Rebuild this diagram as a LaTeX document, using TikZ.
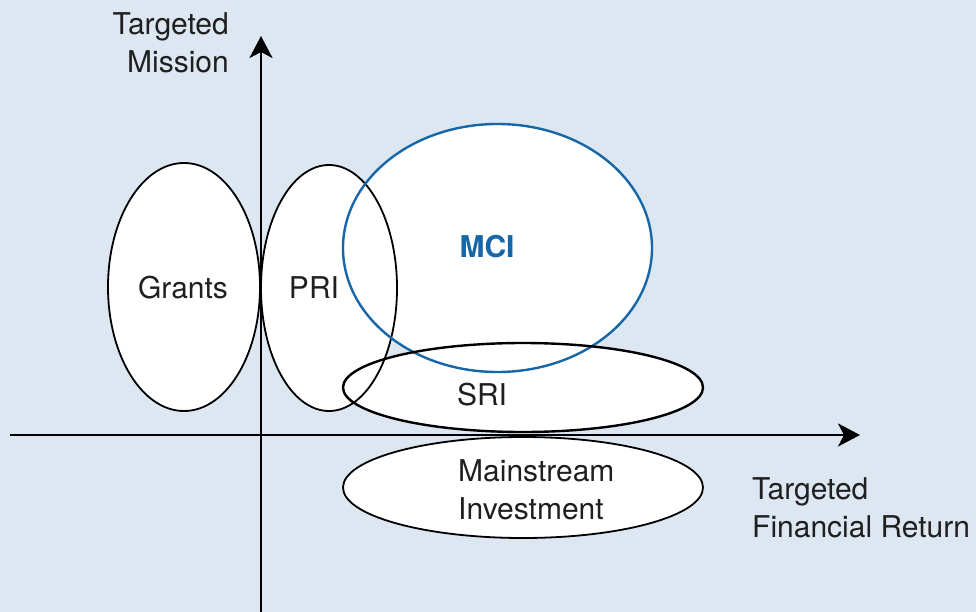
\documentclass[tikz,border=0pt]{standalone}
\usepackage{fontspec}
\setmainfont{TeX Gyre Heros}
\usetikzlibrary{arrows.meta,shapes.geometric}
\definecolor{bgblue}{HTML}{DCE7F2}
\definecolor{mciblue}{HTML}{1766A8}
\tikzset{
  region/.style={ellipse, fill=white, inner sep=0pt},
  outline/.style={draw=black, line width=1.8pt},
  axis/.style={line width=2.6pt, -{Stealth[length=22pt,width=23pt,inset=6pt]}},
  lbl/.style={font=\fontsize{30}{38}\selectfont, text=black!88},
}
\begin{document}
\begin{tikzpicture}[x=1pt,y=-1pt]
  \fill[bgblue] (0,0) rectangle (976,612);
  \useasboundingbox (0,0) rectangle (976,612);

  % filled regions (outlines are drawn afterwards so every rim stays visible)
  \node[region, minimum width=152, minimum height=248] (grants) at (184,287) {};
  \node[region, minimum width=136, minimum height=246] (pri) at (329,288) {};
  \node[region, minimum width=309, minimum height=248] (mci) at (497.5,248) {};
  \node[region, minimum width=360, minimum height=89] (sri) at (523,387.5) {};
  \node[region, minimum width=360, minimum height=101] (main) at (523,487.5) {};

  % axes
  \coordinate (ybot) at (261,612);
  \coordinate (ytop) at (261,36);
  \coordinate (xleft) at (10,435);
  \coordinate (xright) at (860,435);
  \draw[axis] (ybot) -- (ytop);
  \draw[axis] (xleft) -- (xright);

  % outlines
  \draw[outline] (grants.center) ellipse [x radius=76, y radius=124];
  \draw[outline] (pri.center) ellipse [x radius=68, y radius=123];
  \draw[draw=mciblue, line width=2.4pt] (mci.center) ellipse [x radius=154.5, y radius=124];
  \draw[outline, line width=2.4pt] (sri.center) ellipse [x radius=180, y radius=44.5];
  \draw[outline] (main.center) ellipse [x radius=180, y radius=50.5];

  % labels
  \node[lbl] (tgrants) at (183,288) {Grants};
  \node[lbl] (tpri) at (314,288) {PRI};
  \node[font=\fontsize{30}{38}\selectfont\bfseries, text=mciblue] (tmci) at (487,247) {MCI};
  \node[lbl] (tsri) at (482,395) {SRI};
  \node[lbl, align=left, anchor=west, inner sep=0pt] (tmain) at (458,490) {Mainstream\\Investment};
  \node[lbl, align=right, anchor=east, inner sep=0pt] (tmission) at (229,43) {Targeted\\Mission};
  \node[lbl, align=left, anchor=west, inner sep=0pt] (treturn) at (752,508) {Targeted\\Financial Return};
\end{tikzpicture}
\end{document}
